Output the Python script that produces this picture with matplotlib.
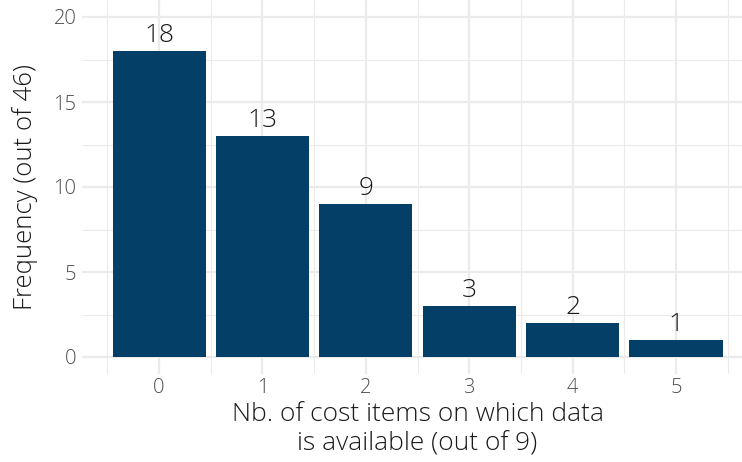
import matplotlib
matplotlib.use("Agg")
import matplotlib.pyplot as plt
from matplotlib.ticker import MultipleLocator

# Number of cost items with available data, and how many countries fall in each
cost_items = [0, 1, 2, 3, 4, 5]
frequency = [18, 13, 9, 3, 2, 1]
y_ticks = [0, 5, 10, 15, 20]

bar_color = "#033F66"
grid_color = "#EBEBEB"

plt.rcParams["font.family"] = ["Open Sans", "DejaVu Sans"]
plt.rcParams["font.weight"] = "light"

W, H = 742, 462
fig = plt.figure(figsize=(W / 100, H / 100), dpi=100)
# panel in pixel coordinates: left 82, right 753, top 0, bottom 374
ax = fig.add_axes([82 / W, (H - 374) / H, (753 - 82) / W, 374 / H])

ax.bar(cost_items, frequency, width=0.9, color=bar_color, zorder=3)
for x, v in zip(cost_items, frequency):
    ax.annotate(str(v), (x, v), xytext=(0, 2), textcoords="offset points",
                ha="center", va="bottom", fontsize=19, color="#1a1a1a",
                fontweight="light", zorder=4)

ax.set_xlim(-0.745, 5.745)
ax.set_ylim(-1, 21)
ax.set_xticks(cost_items)
ax.set_yticks(y_ticks)
ax.xaxis.set_minor_locator(MultipleLocator(0.5))
ax.yaxis.set_minor_locator(MultipleLocator(2.5))

ax.grid(which="major", color=grid_color, linewidth=1.6, zorder=0)
ax.grid(which="minor", color=grid_color, linewidth=0.8, zorder=0)
ax.set_axisbelow(True)

for s in ax.spines.values():
    s.set_visible(False)
ax.tick_params(which="both", length=0)
ax.tick_params(axis="x", labelsize=14.5, labelcolor="#4D4D4D", pad=3)
ax.tick_params(axis="y", labelsize=14.5, labelcolor="#4D4D4D", pad=4)
for lbl in ax.get_xticklabels() + ax.get_yticklabels():
    lbl.set_fontweight("light")

ax.set_xlabel("Nb. of cost items on which data\nis available (out of 9)",
              fontsize=19, color="#1a1a1a", fontweight="light",
              labelpad=3, linespacing=1.2)
ax.set_ylabel("Frequency (out of 46)", fontsize=18.5, color="#1a1a1a",
              fontweight="light", labelpad=11)

fig.savefig("out.png", dpi=100)
